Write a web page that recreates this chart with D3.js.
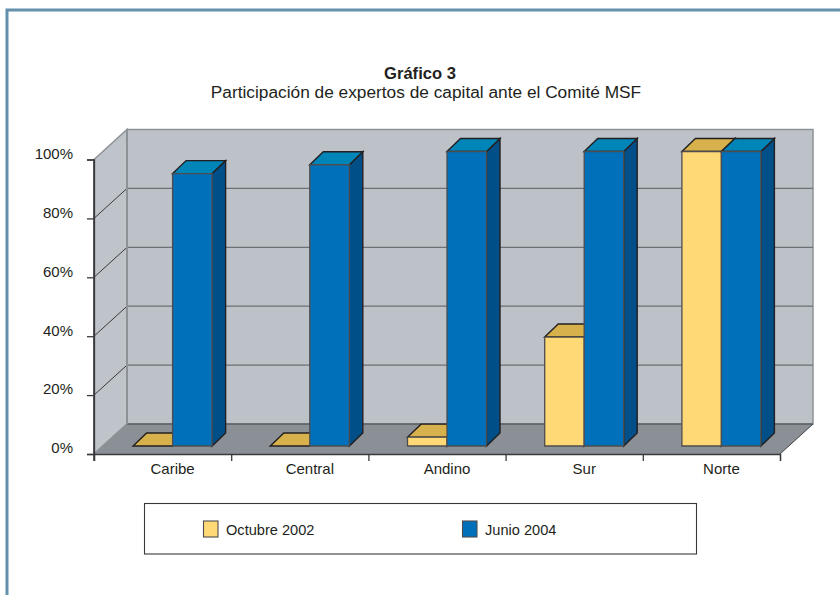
<!DOCTYPE html>
<html>
<head>
<meta charset="utf-8">
<script src="https://cdn.jsdelivr.net/npm/d3@7"></script>
<style>
  html, body { margin: 0; padding: 0; background: #fff; overflow: hidden; }
  text { font-family: "Liberation Sans", Arial, sans-serif; fill: #231f20; }
</style>
</head>
<body>
<div id="chart-area"></div>
<script>
var categories = ["Caribe", "Central", "Andino", "Sur", "Norte"];
var seriesNames = ["Octubre 2002", "Junio 2004"];
var octubre2002 = [0, 0, 3, 37, 100];
var junio2004 = [92.5, 95.5, 100, 100, 100];
var yTicks = [0, 20, 40, 60, 80, 100];

var seriesValues = [octubre2002, junio2004];
var frontColors = ["#fed976", "#0070bb"];
var topColors = ["#d6b14c", "#0085b8"];
var sideColors = ["#c9a545", "#004f88"];

var width = 840, height = 595;

// wall depth of the 3d box, and how far the bars sit inside it
var depth = {x: 33, y: 30};
var barInset = {x: 10, y: 8};
var barDepth = {x: 13.5, y: 13};

var xScale = d3.scaleBand()
    .domain(categories)
    .range([94, 780]);

var xInner = d3.scaleBand()
    .domain(seriesNames)
    .range([-39.5, 39.5]);

var yScale = d3.scaleLinear()
    .domain([0, 100])
    .range([454, 159.5]);

var svg = d3.select("#chart-area").append("svg")
    .attr("width", width)
    .attr("height", height)
    .style("display", "block");

// page frame
svg.append("path")
    .attr("d", "M7,595V10H840")
    .attr("fill", "none")
    .attr("stroke", "#6390ab")
    .attr("stroke-width", 3);

svg.append("text")
    .attr("x", 420).attr("y", 79)
    .attr("text-anchor", "middle")
    .style("font-size", "16.6px")
    .style("font-weight", "bold")
    .text("Gráfico 3");

svg.append("text")
    .attr("x", 426).attr("y", 98)
    .attr("text-anchor", "middle")
    .style("font-size", "17.3px")
    .text("Participación de expertos de capital ante el Comité MSF");

function poly(g, pts, fill, stroke, sw) {
    return g.append("polygon")
        .attr("points", pts.map(function(p) { return p.join(","); }).join(" "))
        .attr("fill", fill)
        .attr("stroke", stroke)
        .attr("stroke-width", sw)
        .attr("stroke-linejoin", "miter");
}

var left = xScale.range()[0], right = xScale.range()[1];
var y0 = yScale(0), y100 = yScale(100);

// walls and floor
var box = svg.append("g").attr("id", "box-group");
poly(box, [[left, y0], [left, y100], [left + depth.x, y100 - depth.y], [left + depth.x, y0 - depth.y]], "#bfc3ca", "#8d9297", 1.5);
poly(box, [[left + depth.x, y100 - depth.y], [right + depth.x, y100 - depth.y], [right + depth.x, y0 - depth.y], [left + depth.x, y0 - depth.y]], "#bdc1c8", "#8d9297", 1.5);
poly(box, [[left, y0], [left + depth.x, y0 - depth.y], [right + depth.x, y0 - depth.y], [right, y0]], "#8a9095", "none", 0);

// gridlines, back wall and the slanted bit on the left wall
yTicks.slice(1, -1).forEach(function(t) {
    box.append("line")
        .attr("x1", left + depth.x).attr("x2", right + depth.x)
        .attr("y1", yScale(t) - depth.y).attr("y2", yScale(t) - depth.y)
        .attr("stroke", "#6d7075").attr("stroke-width", 1.2);
    box.append("line")
        .attr("x1", left).attr("x2", left + depth.x)
        .attr("y1", yScale(t)).attr("y2", yScale(t) - depth.y)
        .attr("stroke", "#3a3a3c").attr("stroke-width", 1);
});

box.append("line")
    .attr("x1", left + depth.x).attr("x2", right + depth.x)
    .attr("y1", y0 - depth.y).attr("y2", y0 - depth.y)
    .attr("stroke", "#3f4245").attr("stroke-width", 1.2);
box.append("line")
    .attr("x1", left + depth.x).attr("x2", left + depth.x)
    .attr("y1", y100 - depth.y).attr("y2", y0 - depth.y)
    .attr("stroke", "#8d9297").attr("stroke-width", 2);
box.append("line")
    .attr("x1", left).attr("x2", left + depth.x)
    .attr("y1", y0).attr("y2", y0 - depth.y)
    .attr("stroke", "#8d9297").attr("stroke-width", 1.5);
box.append("line")
    .attr("x1", right).attr("x2", right + depth.x)
    .attr("y1", y0).attr("y2", y0 - depth.y)
    .attr("stroke", "#3f4245").attr("stroke-width", 1);

// bars: yellow first so the blue one covers its side
var bars = svg.append("g").attr("id", "bar-group");
categories.forEach(function(cat, i) {
    seriesNames.forEach(function(name, s) {
        var x0 = xScale(cat) + xScale.bandwidth() / 2 + barInset.x + xInner(name);
        var x1 = x0 + xInner.bandwidth();
        var yb = yScale(0) - barInset.y;
        var yt = yScale(seriesValues[s][i]) - barInset.y;
        var g = bars.append("g");
        var dark = "#231f20";
        poly(g, [[x1, yb], [x1, yt], [x1 + barDepth.x, yt - barDepth.y], [x1 + barDepth.x, yb - barDepth.y]], sideColors[s], dark, 1.4);
        poly(g, [[x0, yt], [x0 + barDepth.x, yt - barDepth.y], [x1 + barDepth.x, yt - barDepth.y], [x1, yt]], topColors[s], dark, 1.4);
        if (yb > yt) {
            poly(g, [[x0, yb], [x0, yt], [x1, yt], [x1, yb]], frontColors[s], "#4d4d4f", 1.3);
        }
    });
});

// axes
var yAxis = d3.axisLeft(yScale)
    .tickValues(yTicks)
    .tickSize(7)
    .tickPadding(14)
    .tickFormat(function(d) { return d + "%"; });

var yAxisGroup = svg.append("g")
    .attr("class", "axis y-axis")
    .attr("transform", "translate(" + left + ",0)")
    .call(yAxis);
yAxisGroup.selectAll("text")
    .style("font-size", "15px")
    .attr("dy", "-0.08em");

var xTickScale = d3.scaleLinear().domain([0, categories.length]).range(xScale.range());
var xTicks = svg.append("g")
    .attr("class", "axis x-ticks")
    .attr("transform", "translate(0," + y0 + ")")
    .call(d3.axisBottom(xTickScale).tickValues(d3.range(categories.length + 1)).tickSize(7).tickFormat(""));

var xAxisGroup = svg.append("g")
    .attr("class", "axis x-axis")
    .attr("transform", "translate(" + barInset.x + "," + y0 + ")")
    .call(d3.axisBottom(xScale).tickSize(0).tickPadding(9));
xAxisGroup.select(".domain").remove();
xAxisGroup.selectAll("text").style("font-size", "15px");

svg.selectAll(".y-axis .domain, .x-ticks .domain, .y-axis .tick line, .x-ticks .tick line")
    .attr("stroke", "#3a3a3c")
    .attr("stroke-width", 1.3);

svg.append("line")
    .attr("x1", left).attr("x2", left)
    .attr("y1", y100).attr("y2", y0 + 7)
    .attr("stroke", "#3a3a3c").attr("stroke-width", 1.5);

// legend
var legend = svg.append("g").attr("id", "legend-group");
legend.append("rect")
    .attr("x", 144.5).attr("y", 503.5)
    .attr("width", 552).attr("height", 50.5)
    .attr("fill", "#fff")
    .attr("stroke", "#3a3a3c")
    .attr("stroke-width", 1.1);

var legendX = [203, 462];
seriesNames.forEach(function(name, s) {
    legend.append("rect")
        .attr("x", legendX[s] + 0.5).attr("y", 521)
        .attr("width", 14.5).attr("height", 16)
        .attr("fill", frontColors[s])
        .attr("stroke", "#4d4d4f")
        .attr("stroke-width", 1.1);
    legend.append("text")
        .attr("x", legendX[s] + 23).attr("y", 535)
        .style("font-size", "14.6px")
        .text(name);
});
</script>
</body>
</html>
